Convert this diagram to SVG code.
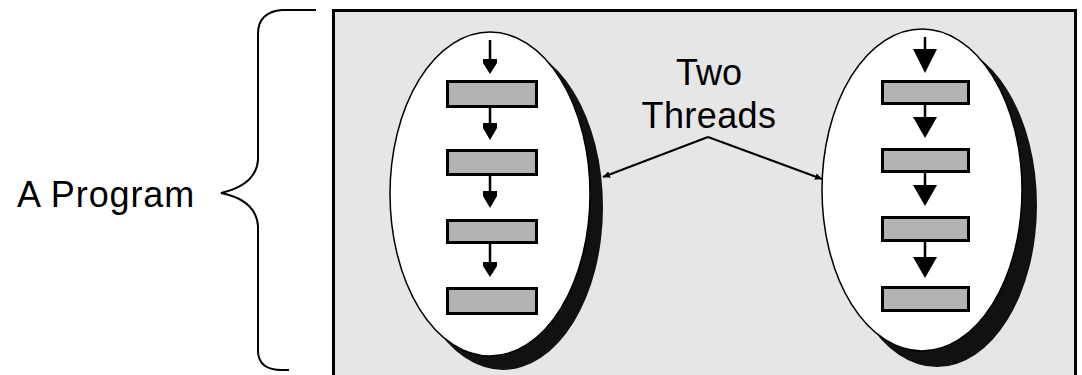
<svg xmlns="http://www.w3.org/2000/svg" width="1082" height="375" viewBox="0 0 1082 375">
  <style>
    .label { font-family: "Liberation Sans", Arial, sans-serif; font-size: 36px; fill: #000; }
    .thread { fill: #fff; stroke: #000; stroke-width: 1.5; }
    .shadow { fill: #111; }
    .step { fill: #b3b3b3; stroke: #000; stroke-width: 3; }
    .flow { stroke: #000; stroke-width: 2.5; fill: none; }
    .head { fill: #000; }
    .line { stroke: #000; stroke-width: 2; fill: none; }
  </style>
  <defs>
    <marker id="tip" viewBox="0 0 10 10" refX="10" refY="5" markerWidth="7" markerHeight="7" markerUnits="userSpaceOnUse" orient="auto">
      <path d="M0,0 L10,5 L0,10 Z" fill="#000"/>
    </marker>
  </defs>

  <rect width="1082" height="375" fill="#fff"/>

  <!-- program label and brace -->
  <g id="program-label">
    <text class="label" x="17" y="207" letter-spacing="0.9">A Program</text>
    <path class="line" d="M316,10 H282 Q258,12 258,34 V160 Q256,185 221,193 Q256,200 258,226 V352 Q259,370 282,370 H289"/>
  </g>

  <!-- program area -->
  <g id="program-box">
    <rect x="333.5" y="10.5" width="742" height="380" fill="#e6e6e6" stroke="#000" stroke-width="3"/>
  </g>

  <!-- first thread -->
  <g id="thread-left">
    <ellipse class="shadow" cx="503" cy="207" rx="100" ry="163"/>
    <ellipse class="thread" cx="490" cy="194" rx="100" ry="162"/>
    <rect class="step" x="447.5" y="81.5" width="89" height="25"/>
    <rect class="step" x="447.5" y="150.5" width="89" height="24"/>
    <rect class="step" x="447.5" y="220.5" width="89" height="22"/>
    <rect class="step" x="447.5" y="288.5" width="89" height="25"/>
    <g>
      <line class="flow" x1="490" y1="40" x2="490" y2="62"/>
      <path class="head" d="M483,59 H497 V63 L490,74 L483,63 Z"/>
      <line class="flow" x1="490" y1="107" x2="490" y2="126"/>
      <path class="head" d="M483,123 H497 V128 L490,140 L483,128 Z"/>
      <line class="flow" x1="490" y1="175" x2="490" y2="194"/>
      <path class="head" d="M483,191 H497 V196 L490,208 L483,196 Z"/>
      <line class="flow" x1="490" y1="243" x2="490" y2="264"/>
      <path class="head" d="M483,262 H497 V266 L490,277 L483,266 Z"/>
    </g>
  </g>

  <!-- second thread -->
  <g id="thread-right">
    <ellipse class="shadow" cx="937" cy="205" rx="100" ry="162"/>
    <ellipse class="thread" cx="922" cy="190" rx="100" ry="161"/>
    <rect class="step" x="882.5" y="81.5" width="86" height="22"/>
    <rect class="step" x="882.5" y="149.5" width="86" height="22"/>
    <rect class="step" x="882.5" y="217.5" width="86" height="23"/>
    <rect class="step" x="882.5" y="287.5" width="86" height="23"/>
    <g>
      <line class="flow" x1="925" y1="37" x2="925" y2="55"/>
      <path class="head" d="M913,49 H937 L925,73 Z"/>
      <line class="flow" x1="925" y1="104" x2="925" y2="120"/>
      <path class="head" d="M913,117 H937 L925,138 Z"/>
      <line class="flow" x1="925" y1="172" x2="925" y2="188"/>
      <path class="head" d="M913,185 H937 L925,206 Z"/>
      <line class="flow" x1="925" y1="241" x2="925" y2="260"/>
      <path class="head" d="M913,257 H937 L925,278 Z"/>
    </g>
  </g>

  <!-- caption for the threads -->
  <g id="threads-label">
    <text class="label" x="709" y="85" text-anchor="middle">Two</text>
    <text class="label" x="709" y="128" text-anchor="middle" letter-spacing="0.4">Threads</text>
  </g>

  <!-- pointers from the caption to both threads -->
  <g id="connectors">
    <polyline class="line" points="708,137 603,177" marker-end="url(#tip)"/>
    <polyline class="line" points="708,137 822,179" marker-end="url(#tip)"/>
  </g>
</svg>
